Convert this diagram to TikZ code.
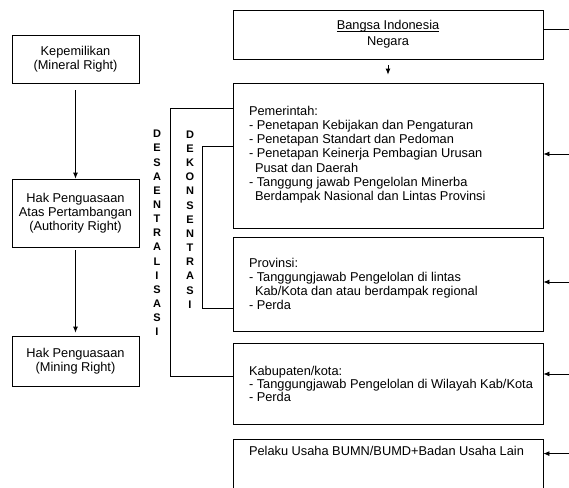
\documentclass[tikz,border=0pt]{standalone}
\usepackage{fontspec}
\setmainfont{Liberation Sans}
\usetikzlibrary{arrows.meta, positioning}

\newcommand\ulbox[1]{\underline{\raisebox{0pt}[\height][0pt]{#1}}}

\tikzset{
  arrow/.style={-{Latex[length=6pt,width=5pt]}},
  vtext/.style={font=\bfseries\fontsize{11}{14.15}\selectfont, align=center, inner sep=0pt}
}

\begin{document}
\begin{tikzpicture}[x=1pt, y=-1pt, line width=0.8pt, font=\fontsize{12.8}{14.2}\selectfont]
  \path[use as bounding box, clip] (0,0) rectangle (569,487);
  % left column
  \begin{scope}[every node/.style={draw, rectangle, minimum width=127pt, align=center, inner sep=0pt}]
    \node[minimum height=48pt] (owner) at (75.5,59) {Kepemilikan\\(Mineral Right)};
    \node[minimum height=68pt] (authority) at (75.5,213) {Hak Penguasaan\\Atas Pertambangan\\(Authority Right)};
    \node[minimum height=50pt] (mining) at (75.5,361) {Hak Penguasaan\\(Mining Right)};
  \end{scope}
  % right column
  \begin{scope}[every node/.style={draw, rectangle, minimum width=310pt, inner sep=0pt}]
    \node[minimum height=49pt, align=center] (nation) at (388,34.5) {\ulbox{Bangsa Indonesia}\\[1.5pt]Negara};
    \node[minimum height=145pt] (central) at (388,155.5) {};
    \node[minimum height=94pt] (province) at (388,284) {};
    \node[minimum height=81pt] (regency) at (388,383.5) {};
    \node[minimum height=60pt] (business) at (388,469) {};
  \end{scope}
  \begin{scope}[every node/.style={anchor=west, align=left, inner sep=0pt}]
    \node (centraltext) at ([xshift=16pt,yshift=1pt]central.west) {Pemerintah:\\- Penetapan Kebijakan dan Pengaturan\\- Penetapan Standart dan Pedoman\\- Penetapan Keinerja Pembagian Urusan\\\hspace*{6pt}Pusat dan Daerah\\- Tanggung jawab Pengelolan Minerba\\\hspace*{6pt}Berdampak Nasional dan Lintas Provinsi};
    \node (provincetext) at ([xshift=16pt]province.west) {Provinsi:\\- Tanggungjawab Pengelolan di lintas\\\hspace*{6pt}Kab/Kota dan atau berdampak regional\\- Perda};
    \node[font=\fontsize{12.8}{11}\selectfont] (regencytext) at ([xshift=16pt]regency.west) {Kabupaten/kota:\\- Tanggungjawab Pengelolan di Wilayah Kab/Kota\\- Perda};
    \node (businesstext) at ([xshift=16pt,yshift=-12pt]business.north west) {Pelaku Usaha BUMN/BUMD+Badan Usaha Lain};
  \end{scope}
  % vertical labels
  \node[vtext] (desentral) at (157,233) {D\\E\\S\\A\\E\\N\\T\\R\\A\\L\\I\\S\\A\\S\\I};
  \node[vtext] (dekonsen) at (190,219.5) {D\\E\\K\\O\\N\\S\\E\\N\\T\\R\\A\\S\\I};
  % brackets
  \draw ([yshift=47.5pt]central.west) -- ++(-62,0) |- ([yshift=7.5pt]regency.west);
  \draw ([yshift=9.5pt]central.west) -- ++(-30,0) |- ([yshift=-24pt]province.west);
  % arrows
  \draw[arrow] ([yshift=-7pt]owner.south) -- (authority.north);
  \draw[arrow] ([yshift=-3pt]authority.south) -- ([yshift=3pt]mining.north);
  \draw[arrow] ([yshift=-6pt]nation.south) -- ([yshift=8pt]central.north);
  \draw ([yshift=5.5pt]nation.east) -- ++(30,0);
  \draw[arrow] ([yshift=1.5pt]central.east) ++(30,0) -- ([yshift=1.5pt]central.east);
  \draw[arrow] ([yshift=2pt]province.east) ++(30,0) -- ([yshift=2pt]province.east);
  \draw[arrow] ([yshift=9.5pt]regency.east) ++(30,0) -- ([yshift=9.5pt]regency.east);
  \draw[arrow] ([yshift=-15pt]business.north east) ++(30,0) -- ([yshift=-15pt]business.north east);
\end{tikzpicture}
\end{document}
